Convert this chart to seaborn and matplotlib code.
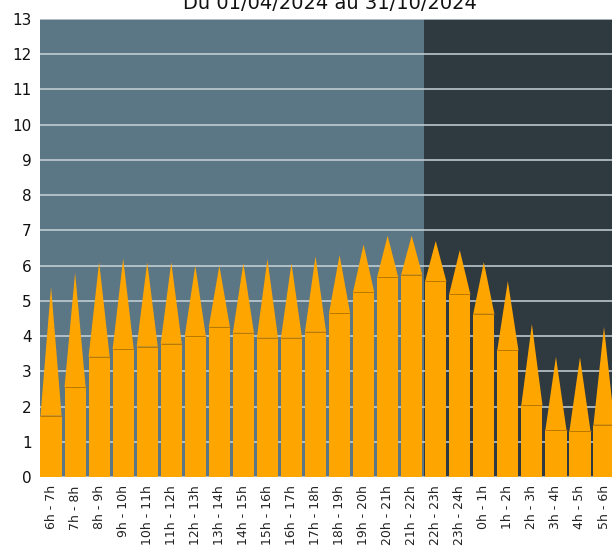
import numpy as np
import pandas as pd
import matplotlib
matplotlib.use("Agg")
import matplotlib.pyplot as plt
import seaborn as sns

# Hourly slots, average (thin line) and peak (spike tip)
slots = ['6h - 7h', '7h - 8h', '8h - 9h', '9h - 10h', '10h - 11h', '11h - 12h',
         '12h - 13h', '13h - 14h', '14h - 15h', '15h - 16h', '16h - 17h', '17h - 18h',
         '18h - 19h', '19h - 20h', '20h - 21h', '21h - 22h', '22h - 23h', '23h - 24h',
         '0h - 1h', '1h - 2h', '2h - 3h', '3h - 4h', '4h - 5h', '5h - 6h']
mean_vals = [1.74, 2.55, 3.41, 3.63, 3.70, 3.78, 4.00, 4.26, 4.09, 3.95, 3.95, 4.12,
             4.65, 5.25, 5.67, 5.74, 5.56, 5.19, 4.63, 3.60, 2.04, 1.33, 1.30, 1.48]
max_vals = [5.40, 5.80, 6.10, 6.20, 6.10, 6.10, 6.00, 6.00, 6.07, 6.19, 6.07, 6.27,
            6.30, 6.60, 6.85, 6.85, 6.70, 6.44, 6.10, 5.56, 4.34, 3.41, 3.40, 4.26]
title = 'Du 01/04/2024 au 31/10/2024'

df = pd.DataFrame({'slot': slots, 'mean': mean_vals, 'max': max_vals})

fig = plt.figure(figsize=(6.12, 5.49), dpi=100)
ax = fig.add_axes([40 / 612, 1 - 477 / 549, 577 / 612, 458 / 549])

orange = '#ffa500'
width = 0.88

# day / night background
ax.axvspan(-0.5, 15.5, color='#5b7685', zorder=0, lw=0)
ax.axvspan(15.5, 24, color='#2e3940', zorder=0, lw=0)

for y in range(0, 14):
    ax.axhline(y, color='#c9d3d8', lw=1.1, zorder=1)

sns.barplot(data=df, x='slot', y='mean', color=orange, saturation=1,
            width=width, ax=ax, zorder=2, linewidth=0)

half = width / 2
for i, row in df.iterrows():
    ax.fill([i - half, i, i + half], [row['mean'], row['max'], row['mean']],
            color=orange, lw=0, zorder=2)
    ax.hlines(row['mean'], i - half, i + half, color='#b87800', lw=0.7, zorder=3)

ax.set_xlim(-0.46, 23.54)
ax.set_ylim(0, 13)
ax.set_yticks(range(0, 14))
ax.set_xlabel('')
ax.set_ylabel('')
for s in ax.spines.values():
    s.set_visible(False)
ax.tick_params(axis='x', length=0, labelsize=9, labelcolor='#222222', rotation=90, pad=6)
ax.tick_params(axis='y', length=0, labelsize=11, labelcolor='#111111', pad=6)

fig.text(330 / 612, 1 - 9 / 549, title, ha='center', va='baseline', fontsize=14, color='#111111')

fig.savefig('out.png', dpi=100)
